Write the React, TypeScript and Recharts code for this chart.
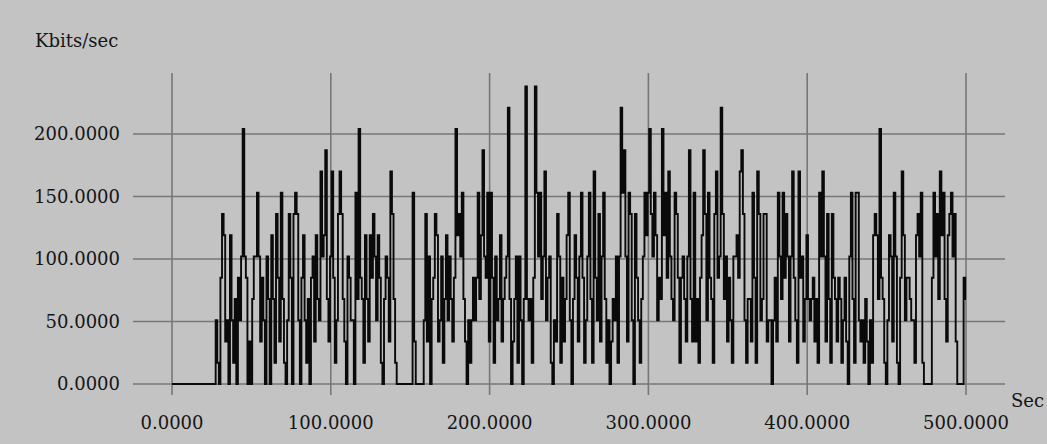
import React from "react";
import { LineChart, Line, XAxis, YAxis, CartesianGrid } from "recharts";

// Throughput samples, one per second from 0 to 500 (Kbits/sec)
const kbitsPerSec: number[] = [
  0, 0, 0, 0, 0, 0, 0, 0, 0, 0,
  0, 0, 0, 0, 0, 0, 0, 0, 0, 0,
  0, 0, 0, 0, 0, 0, 0, 0, 51, 17,
  0, 85, 136, 119, 34, 51, 0, 119, 51, 17,
  68, 0, 85, 51, 102, 204, 102, 85, 0, 34,
  0, 68, 102, 102, 153, 102, 34, 85, 51, 0,
  102, 68, 0, 119, 68, 17, 136, 85, 34, 153,
  68, 17, 0, 51, 136, 85, 0, 136, 153, 136,
  51, 0, 85, 119, 51, 17, 68, 0, 85, 102,
  34, 119, 68, 51, 170, 102, 119, 187, 68, 34,
  102, 170, 85, 17, 51, 136, 170, 136, 68, 34,
  0, 102, 85, 51, 51, 0, 153, 68, 204, 85,
  68, 17, 119, 68, 34, 119, 85, 136, 102, 51,
  119, 85, 17, 0, 68, 102, 85, 34, 170, 136,
  68, 17, 0, 0, 0, 0, 0, 0, 0, 0,
  0, 0, 153, 34, 0, 0, 0, 0, 0, 51,
  136, 34, 102, 0, 68, 85, 136, 119, 34, 51,
  102, 17, 68, 119, 51, 102, 68, 34, 85, 204,
  119, 136, 102, 153, 68, 34, 0, 51, 17, 51,
  85, 51, 85, 153, 68, 119, 187, 102, 85, 153,
  34, 153, 85, 17, 102, 51, 68, 119, 34, 68,
  85, 102, 221, 68, 0, 34, 68, 102, 17, 102,
  51, 0, 68, 238, 68, 51, 68, 17, 85, 238,
  153, 102, 153, 68, 102, 170, 51, 85, 102, 17,
  0, 51, 34, 136, 102, 17, 85, 34, 68, 119,
  153, 51, 0, 68, 119, 85, 34, 102, 153, 85,
  17, 51, 102, 153, 68, 17, 170, 85, 51, 136,
  34, 102, 153, 68, 17, 51, 0, 34, 68, 51,
  102, 17, 102, 221, 153, 187, 102, 34, 153, 136,
  51, 0, 136, 85, 51, 17, 68, 102, 153, 119,
  153, 204, 136, 102, 153, 119, 51, 85, 68, 204,
  119, 153, 85, 170, 102, 68, 51, 153, 136, 85,
  17, 85, 102, 68, 34, 102, 187, 68, 34, 153,
  34, 68, 17, 85, 119, 187, 136, 51, 153, 85,
  68, 17, 136, 170, 85, 102, 221, 136, 68, 102,
  34, 85, 51, 17, 102, 102, 119, 85, 170, 187,
  136, 51, 17, 68, 68, 34, 153, 85, 17, 170,
  136, 51, 68, 136, 136, 34, 51, 51, 0, 51,
  85, 34, 153, 102, 68, 153, 85, 136, 102, 34,
  102, 170, 85, 51, 17, 170, 85, 102, 34, 68,
  119, 68, 51, 68, 85, 34, 68, 17, 153, 102,
  170, 102, 34, 136, 68, 17, 136, 85, 68, 34,
  85, 68, 17, 51, 85, 34, 0, 102, 153, 68,
  17, 153, 153, 51, 34, 51, 17, 68, 34, 0,
  51, 17, 119, 136, 119, 68, 204, 85, 68, 17,
  0, 51, 119, 102, 34, 153, 102, 17, 0, 85,
  170, 119, 51, 85, 85, 68, 51, 51, 17, 119,
  136, 102, 153, 17, 0, 0, 0, 0, 0, 85,
  153, 102, 136, 68, 170, 119, 153, 68, 34, 119,
  136, 153, 102, 136, 34, 0, 0, 0, 0, 85,
  68,
];

const xTicks: number[] = [0, 100, 200, 300, 400, 500];
const yTicks: number[] = [0, 50, 100, 150, 200];
const yAxisTitle = "Kbits/sec";
const xAxisTitle = "Sec";

const data = kbitsPerSec.map((v, i) => ({ sec: i, kbps: v }));

const FONT = "'DejaVu Serif', serif";
const TEXT_COLOR = "#151515";

const fmt = (v: number) => Number(v).toFixed(4);

const renderXTick = (props: any) => {
  const { x, y, payload } = props;
  return (
    <text x={x} y={y} dy={34} textAnchor="middle" fontFamily={FONT} fontSize={18} fill={TEXT_COLOR}>
      {fmt(payload.value)}
    </text>
  );
};

const renderYTick = (props: any) => {
  const { x, y, payload } = props;
  return (
    <text x={x} y={y} dy={6} textAnchor="end" fontFamily={FONT} fontSize={18} fill={TEXT_COLOR}>
      {fmt(payload.value)}
    </text>
  );
};

export default function App() {
  return (
    <div
      style={{
        position: "fixed",
        left: 0,
        top: 0,
        width: 1047,
        height: 444,
        background: "#c3c3c3",
        overflow: "hidden",
      }}
    >
      <LineChart
        width={1047}
        height={444}
        data={data}
        margin={{ top: 73, right: 42, bottom: 0, left: 0 }}
      >
        <CartesianGrid
          stroke="#777777"
          strokeWidth={1.6}
          horizontalValues={yTicks}
          verticalValues={xTicks}
        />
        <XAxis
          dataKey="sec"
          type="number"
          domain={[-24.56, 524.56]}
          ticks={xTicks}
          allowDataOverflow
          axisLine={false}
          tickLine={false}
          tickSize={0}
          tickMargin={0}
          height={49}
          interval={0}
          tick={renderXTick}
        />
        <YAxis
          type="number"
          domain={[-8.8, 248.8]}
          ticks={yTicks}
          allowDataOverflow
          axisLine={false}
          tickLine={false}
          tickSize={0}
          tickMargin={13}
          width={133}
          interval={0}
          tick={renderYTick}
        />
        <Line
          type="step"
          dataKey="kbps"
          stroke="#0a0a0a"
          strokeWidth={1.9}
          dot={false}
          isAnimationActive={false}
        />
      </LineChart>
      <div
        style={{
          position: "absolute",
          left: 35,
          top: 31,
          fontFamily: FONT,
          fontSize: 18,
          color: TEXT_COLOR,
          lineHeight: "20px",
        }}
      >
        {yAxisTitle}
      </div>
      <div
        style={{
          position: "absolute",
          left: 1011,
          top: 391,
          fontFamily: FONT,
          fontSize: 18,
          color: TEXT_COLOR,
          lineHeight: "20px",
        }}
      >
        {xAxisTitle}
      </div>
    </div>
  );
}
